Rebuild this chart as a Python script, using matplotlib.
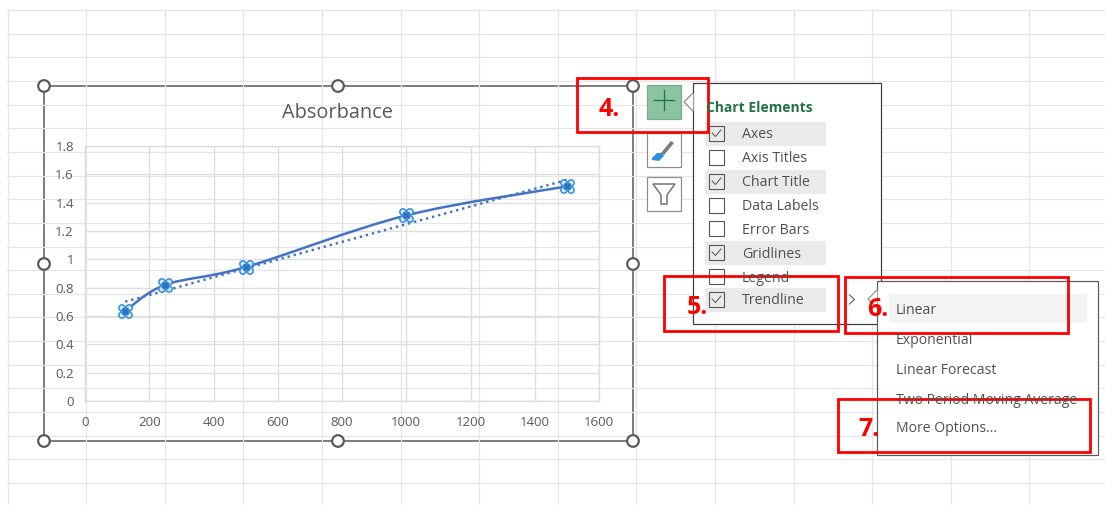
import numpy as np
import matplotlib
matplotlib.use("Agg")
import matplotlib.pyplot as plt
from matplotlib.path import Path
from matplotlib.patches import PathPatch, Rectangle, Circle, Polygon

plt.rcParams["font.family"] = ["Open Sans", "DejaVu Sans"]

# Chart data
concentration = [125, 250, 500, 1000, 1500]
absorbance = [0.635, 0.82, 0.945, 1.31, 1.515]
x_ticks = [0, 200, 400, 600, 800, 1000, 1200, 1400, 1600]
y_ticks = [0, 0.2, 0.4, 0.6, 0.8, 1, 1.2, 1.4, 1.6, 1.8]
y_tick_labels = ["0", "0.2", "0.4", "0.6", "0.8", "1", "1.2", "1.4", "1.6", "1.8"]
chart_title = "Absorbance"

# Menu contents
element_names = ["Axes", "Axis Titles", "Chart Title", "Data Labels", "Error Bars",
                 "Gridlines", "Legend", "Trendline"]
element_checked = [True, False, True, False, False, True, False, True]
element_rows = [133, 157, 181, 205, 228, 252, 276, 299]
trend_names = ["Linear", "Exponential", "Linear Forecast",
               "Two Period Moving Average", "More Options..."]
trend_rows = [310, 340, 369, 399, 428]

W, H = 1105, 505
TEXT = "#595959"
LINE = "#4472C4"
RED = "#FF0000"
SHEET = "#E6E6E6"


def px(n):
    return n * 72 / 100


def smooth_path(xs, ys):
    # Catmull-Rom segments written as cubic beziers
    pts = np.column_stack([xs, ys])
    verts = [pts[0]]
    codes = [Path.MOVETO]
    for i in range(len(pts) - 1):
        p0 = pts[max(i - 1, 0)]
        p1, p2 = pts[i], pts[i + 1]
        p3 = pts[min(i + 2, len(pts) - 1)]
        verts += [p1 + (p2 - p0) / 6, p2 - (p3 - p1) / 6, p2]
        codes += [Path.CURVE4] * 3
    return Path(verts, codes)


def four_circles():
    # marker shape of a selected data point
    parts = []
    for dx, dy in [(-1, -1), (-1, 1), (1, -1), (1, 1)]:
        c = Path.circle((dx, dy), 0.85)
        parts.append(c)
    return Path.make_compound_path(*parts)


fig = plt.figure(figsize=(W / 100, H / 100), dpi=100, facecolor="white")


def pixel_axes(z):
    a = fig.add_axes([0, 0, 1, 1], zorder=z)
    a.set_xlim(0, W)
    a.set_ylim(H, 0)
    a.axis("off")
    return a


# Worksheet cells behind the chart
bg = pixel_axes(0)
for i in range(14):
    x = 7.5 if i == 0 else 7.5 + 78.6 * i
    bg.plot([x, x], [10, H], color=SHEET, lw=px(1.2))
for i in range(21):
    y = 10 + 23.65 * i
    bg.plot([7, W], [y, y], color=SHEET, lw=px(1.2))
bg.add_patch(Rectangle((44, 86), 589, 355, fc="white", ec="#7F7F7F", lw=px(2)))

# The chart itself
left, right, top, bottom = 85, 599, 146, 401
ax = fig.add_axes([left / W, 1 - bottom / H, (right - left) / W, (bottom - top) / H], zorder=1)
ax.set_xlim(0, 1600)
ax.set_ylim(0, 1.8)
ax.set_xticks(x_ticks)
ax.set_yticks(y_ticks)
ax.set_yticklabels(y_tick_labels)
ax.grid(True, color="#DEDEDE", lw=px(1.4))
ax.set_axisbelow(True)
ax.patch.set_alpha(0)
for s in ax.spines.values():
    s.set_color("#DEDEDE")
    s.set_linewidth(px(1.4))
ax.tick_params(length=0, labelsize=9.5, labelcolor=TEXT)
ax.tick_params(axis="x", pad=11)
ax.tick_params(axis="y", pad=8)

ax.add_patch(PathPatch(smooth_path(concentration, absorbance), fc="none", ec=LINE, lw=px(2.5)))

# Linear trendline through the points
slope, intercept = np.polyfit(concentration, absorbance, 1)
trend_x = np.array([concentration[0], concentration[-1]])
ax.plot(trend_x, slope * trend_x + intercept, color=LINE, lw=px(2.4), ls=(0, (1, 1.6)))

ax.plot(concentration, absorbance, ls="none", marker=four_circles(), ms=9.6,
        mfc="#CFE8FA", mec="#2E8FDC", mew=px(1.5), clip_on=False)
ax.plot(concentration, absorbance, ls="none", marker="x", ms=4.5, mec="#2F6FC0", mew=px(2.6))

# Chart frame handles, buttons, menus and callouts go on top
ui = pixel_axes(2)
ui.text(337, 113, chart_title, fontsize=14.3, color=TEXT, ha="center", va="center")

for hx, hy in [(44, 86), (338, 86), (633, 86), (44, 264), (633, 264),
               (44, 441), (338, 441), (633, 441)]:
    ui.add_patch(Circle((hx, hy), 5.8, fc="white", ec="#595959", lw=px(2.2)))

# Buttons beside the chart
ui.add_patch(Rectangle((647, 85), 34, 34, fc="#8CC3A0", ec="#6FAE88", lw=px(1.2)))
ui.plot([654, 674], [100, 100], color="#217346", lw=px(1.3))
ui.plot([664, 664], [90, 110], color="#217346", lw=px(1.3))
for by in [133, 177]:
    ui.add_patch(Rectangle((647, by), 34, 34, fc="white", ec="#8C8C8C", lw=px(1.2)))
ui.add_patch(Polygon([(671, 141), (674, 143), (664, 155), (661, 153)], fc="#7A7A7A", ec="none"))
ui.add_patch(Polygon([(652, 158), (657, 153), (662, 153), (664, 156), (659, 161), (652, 160)],
                     fc="#2E8FDC", ec="none"))
ui.add_patch(Polygon([(653, 184), (675, 184), (667, 195), (667, 204), (661, 204), (661, 195)],
                     fc="white", ec="#7A7A7A", lw=px(1.6)))

# Chart Elements panel
ui.add_patch(Rectangle((693, 83), 188, 241, fc="white", ec="#3C3C3C", lw=px(1.2)))
ui.add_patch(Polygon([(693.5, 93), (684, 102), (693.5, 111)], fc="white", ec="none"))
ui.plot([693, 684, 693], [93, 102, 111], color="#7F7F7F", lw=px(1.1))
ui.text(706, 108, "Chart Elements", fontsize=10, fontweight="bold", color="#217346", va="center")
for name, on, row in zip(element_names, element_checked, element_rows):
    if on:
        ui.add_patch(Rectangle((705, row - 11), 121, 24, fc="#EAEAEA", ec="none"))
    ui.add_patch(Rectangle((709, row - 7.5), 15, 15, fc="none", ec="#555555", lw=px(1.1)))
    if on:
        ui.plot([712, 715.5, 721], [row, row + 3.5, row - 3], color="#555555", lw=px(1))
    ui.text(742, row + 2, name, fontsize=10.2, color="#505050", va="center")
ui.plot([849.5, 854.5, 849.5], [295, 299.5, 304], color="#666666", lw=px(1.2))

# Trendline submenu
ui.add_patch(Rectangle((877, 281), 221, 174, fc="white", ec="#5A5A5A", lw=px(1.2)))
ui.add_patch(Polygon([(877.5, 290), (868, 299), (877.5, 308)], fc="white", ec="none"))
ui.plot([877, 868, 877], [290, 299, 308], color="#8A8A8A", lw=px(1.1))
ui.add_patch(Rectangle((889, 294), 198, 29, fc="#F3F3F3", ec="none"))
for name, row in zip(trend_names, trend_rows):
    ui.text(896, row + 1, name, fontsize=10.1, color="#505050", va="center")

# Numbered red callouts
boxes = [(577, 78, 131, 54), (664, 276, 174, 55), (845, 277, 223, 56), (838, 399, 252, 53)]
for bx, by, bw, bh in boxes:
    ui.add_patch(Rectangle((bx, by), bw, bh, fc="none", ec=RED, lw=px(2.8)))
for label, lx, ly in [("4.", 609, 109), ("5.", 697, 307), ("6.", 878, 309), ("7.", 869, 429)]:
    ui.text(lx, ly, label, fontsize=18, fontweight="bold", color=RED, ha="center", va="center")

fig.savefig("out.png", dpi=100)
